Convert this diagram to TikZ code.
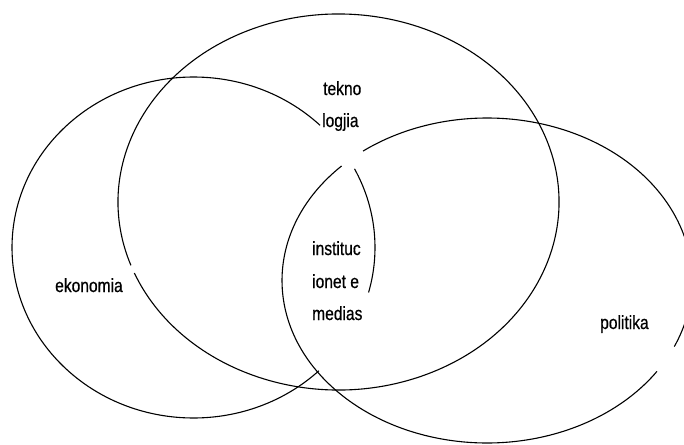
\documentclass[tikz,border=0pt]{standalone}
\usepackage{fontspec}
\newfontfamily\labelfont[FakeStretch=0.82,FakeBold=0.6]{Liberation Sans}
\begin{document}
\begin{tikzpicture}[x=1pt,y=-1pt]
\tikzset{
  ring/.style={draw=black, line width=1.1pt},
  lbl/.style={font={\labelfont\fontsize{19pt}{19pt}\selectfont}, inner sep=0pt, anchor=base west, text=black}
}
\fill[white] (0,0) rectangle (684,444);
\useasboundingbox (0,0) rectangle (684,444);
\clip (0,0) rectangle (684,444);
% centres
\coordinate (E) at (193.5,247.5);
\coordinate (T) at (338.5,202);
\coordinate (P) at (487,280.5);
% ekonomia ellipse (with gaps)
\draw[ring] (E) ++(45.8:181.5pt and 170.5pt) arc[start angle=45.8, end angle=313.7, x radius=181.5pt, y radius=170.5pt];
\draw[ring] (E) ++(-15.3:181.5pt and 170.5pt) arc[start angle=-15.3, end angle=27.5, x radius=181.5pt, y radius=170.5pt];
% teknologjia ellipse
\draw[ring] (T) ++(202.2:220.5pt and 188pt) arc[start angle=202.2, end angle=559.7, x radius=220.5pt, y radius=188pt];
% politika ellipse (with gaps)
\draw[ring] (P) ++(135.2:205pt and 162.5pt) arc[start angle=135.2, end angle=326, x radius=205pt, y radius=162.5pt];
\draw[ring] (P) ++(336:205pt and 162.5pt) arc[start angle=336, end angle=487.2, x radius=205pt, y radius=162.5pt];
% labels
\node[lbl] (tek1) at (323,95) {tekno};
\node[lbl] (tek2) at (322,127) {logjia};
\node[lbl] (ins1) at (312,255) {instituc};
\node[lbl] (ins2) at (312,288) {ionet e};
\node[lbl] (ins3) at (312,320) {medias};
\node[lbl] (eko) at (55,292) {ekonomia};
\node[lbl] (pol) at (600,329) {politika};
\end{tikzpicture}
\end{document}
